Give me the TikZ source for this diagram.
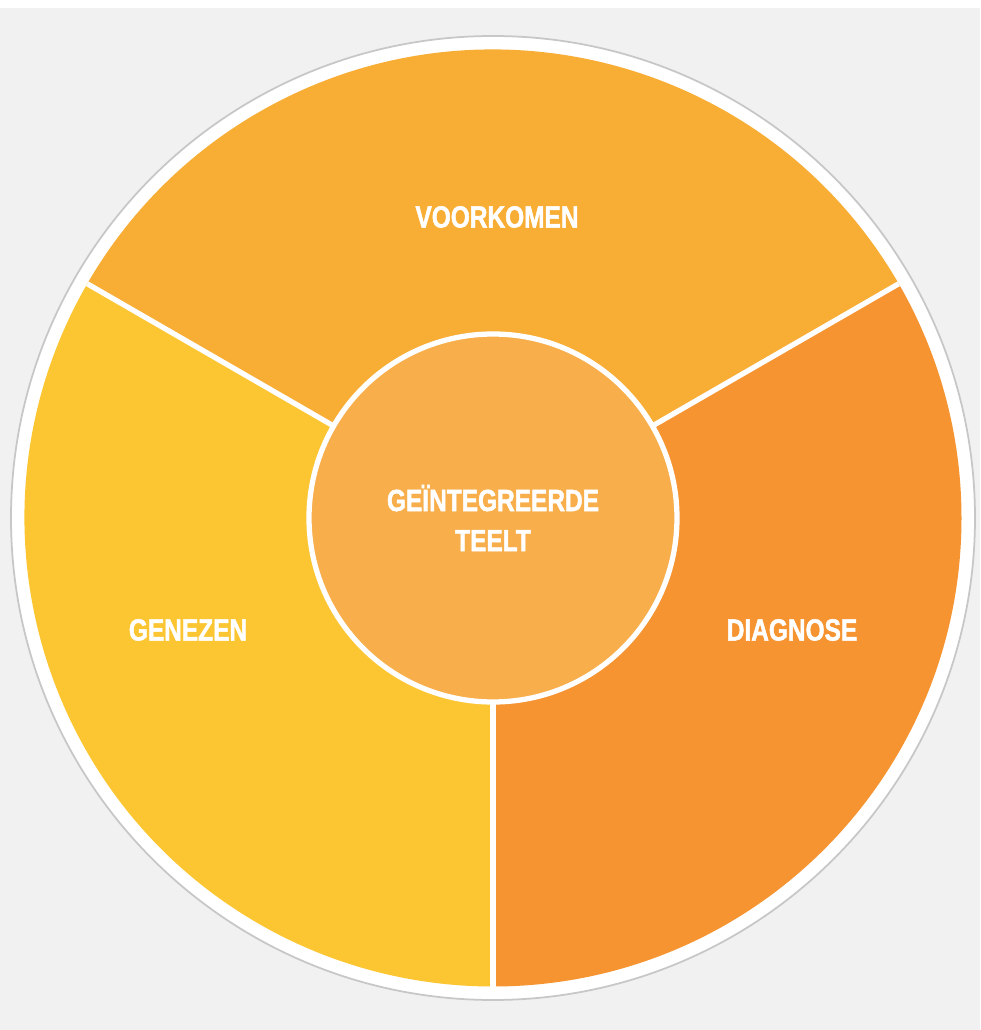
\documentclass[tikz,border=0pt]{standalone}
\usepackage{fontspec}
\setmainfont{Liberation Sans}[FakeStretch=0.8]
\newfontfamily\heavyfont{Liberation Sans Bold}[FakeStretch=0.8, FakeBold=1.6]
\usepackage{xcolor}
\definecolor{bgGrey}{HTML}{F1F1F1}
\definecolor{topOrange}{HTML}{F8AD35}
\definecolor{rightOrange}{HTML}{F59431}
\definecolor{leftYellow}{HTML}{FCC633}
\definecolor{hubOrange}{HTML}{F8AE4B}

\begin{document}
\begin{tikzpicture}[
    wheeltext/.style={text=white, font=\heavyfont\fontsize{8.7}{11.4}\selectfont, align=center},
    divider/.style={draw=white, line width=1.5pt}]

    % background and margins
    \fill[white] (0,0) rectangle (9.8,10.3);
    \fill[bgGrey] (0,0) rectangle (9.8,10.22);
    \useasboundingbox (0,0) rectangle (9.8,10.3);

    \coordinate (c) at (4.93,5.12);

    % white ring round the wheel
    \fill[white, draw=black!22, line width=0.5pt] (c) circle (4.82);

    % the three parts
    \fill[topOrange] (c) -- ++(30:4.685) arc (30:150:4.685) -- cycle;
    \fill[rightOrange] (c) -- ++(-90:4.685) arc (-90:30:4.685) -- cycle;
    \fill[leftYellow] (c) -- ++(150:4.685) arc (150:270:4.685) -- cycle;

    \node[circle, minimum size=9.37cm, inner sep=0pt, outer sep=0pt] (wheel) at (c) {};
    \node[circle, fill=hubOrange, draw=white, line width=1.5pt, minimum size=3.68cm,
          inner sep=0pt, outer sep=0pt, wheeltext] (hub) at (c) {GEÏNTEGREERDE\\TEELT};

    \draw[divider] (hub.150) -- (wheel.150);
    \draw[divider] (hub.30) -- (wheel.30);
    \draw[divider] (hub.270) -- (wheel.270);

    \node[wheeltext] (voorkomen) at (4.97,8.13) {VOORKOMEN};
    \node[wheeltext] (genezen) at (1.88,4.0) {GENEZEN};
    \node[wheeltext] (diagnose) at (7.92,4.0) {DIAGNOSE};
\end{tikzpicture}
\end{document}
